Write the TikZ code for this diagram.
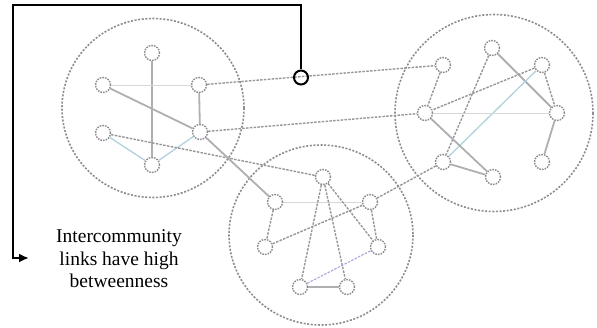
\documentclass[tikz,border=0pt]{standalone}
\usepackage{fontspec}
\setmainfont{Liberation Serif}
\usetikzlibrary{arrows.meta}
\definecolor{ringgray}{RGB}{140,140,145}
\definecolor{edgegray}{RGB}{150,150,155}
\definecolor{solidgray}{RGB}{175,175,178}
\definecolor{lightgray2}{RGB}{215,215,215}
\definecolor{paleblue}{RGB}{175,210,222}
\definecolor{lavend}{RGB}{165,165,225}
\begin{document}
\begin{tikzpicture}[x=1pt,y=-1pt,
  community/.style={draw=ringgray, line width=1.6pt, dash pattern=on 2pt off 1.6pt},
  vertex/.style={circle, draw=ringgray, line width=1.4pt, dash pattern=on 1.6pt off 1.1pt, fill=white, minimum size=15pt, inner sep=0pt},
  dlink/.style={draw=edgegray, line width=1.4pt, dash pattern=on 2.5pt off 1.3pt},
  slink/.style={draw=solidgray, line width=1.8pt},
  thinlink/.style={draw=lightgray2, line width=0.8pt},
  bluelink/.style={draw=paleblue, line width=1.3pt},
  lavlink/.style={draw=lavend, line width=1.1pt, dash pattern=on 2.5pt off 1.3pt},
  pointer/.style={draw=black, line width=2pt},
  marker/.style={circle, draw=black, line width=2pt, minimum size=14pt, inner sep=0pt}
]
\useasboundingbox (0,0) rectangle (597,328);
% communities
\draw[community] (153,108) ellipse [x radius=91, y radius=89.5];
\draw[community] (494,113) ellipse [x radius=99, y radius=98.5];
\draw[community] (321,235) ellipse [x radius=92, y radius=90];
% left community
\node[vertex] (a1) at (152,53) {};
\node[vertex] (a2) at (103,85) {};
\node[vertex] (a3) at (199,85) {};
\node[vertex] (a4) at (103,133) {};
\node[vertex] (a5) at (200,132) {};
\node[vertex] (a6) at (152,165) {};
% right community
\node[vertex] (c1) at (443,65) {};
\node[vertex] (c2) at (492,48) {};
\node[vertex] (c3) at (542,65) {};
\node[vertex] (c4) at (425,113) {};
\node[vertex] (c5) at (557,113) {};
\node[vertex] (c6) at (443,162) {};
\node[vertex] (c7) at (493,177) {};
\node[vertex] (c8) at (542,162) {};
% bottom community
\node[vertex] (b1) at (323,177) {};
\node[vertex] (b2) at (275,202) {};
\node[vertex] (b3) at (370,202) {};
\node[vertex] (b4) at (265,247) {};
\node[vertex] (b5) at (378,247) {};
\node[vertex] (b6) at (300,287) {};
\node[vertex] (b7) at (347,287) {};
% left edges
\draw[slink] (a1) -- (a6);
\draw[thinlink] (a2) -- (a3);
\draw[slink] (a2) -- (a5);
\draw[slink] (a3) -- (a5);
\draw[bluelink] (a4) -- (a6);
\draw[bluelink] (a5) -- (a6);
% right edges
\draw[dlink] (c1) -- (c4);
\draw[dlink] (c2) -- (c6);
\draw[slink] (c2) -- (c5);
\draw[dlink] (c3) -- (c4);
\draw[dlink] (c3) -- (c5);
\draw[bluelink] (c3) -- (c6);
\draw[thinlink] (c4) -- (c5);
\draw[slink] (c4) -- (c7);
\draw[slink] (c6) -- (c7);
\draw[slink] (c5) -- (c8);
% bottom edges
\draw[thinlink] (b2) -- (b3);
\draw[dlink] (b2) -- (b4);
\draw[dlink] (b4) -- (b3);
\draw[dlink] (b1) -- (b6);
\draw[dlink] (b1) -- (b7);
\draw[dlink] (b1) -- (b5);
\draw[dlink] (b3) -- (b5);
\draw[slink] (b6) -- (b7);
\draw[lavlink] (b6) -- (b5);
% intercommunity edges
\draw[dlink] (a3) -- (c1);
\draw[dlink] (a5) -- (c4);
\draw[dlink] (a4) -- (b1);
\draw[slink] (a5) -- (b2);
\draw[dlink] (c6) -- (b3);
% pointer
\node[marker] (m) at (301,77.5) {};
\coordinate (corner) at (13,5);
\coordinate (tip) at (29,258);
\draw[pointer, -{Latex[length=10pt,width=9pt]}] (m.north) |- (corner) |- (tip);
\node[align=center, inner sep=0pt, font=\fontsize{19.5}{22.5}\selectfont] (label) at (119,259)
  {Intercommunity\\links have high\\betweenness};
\end{tikzpicture}
\end{document}
